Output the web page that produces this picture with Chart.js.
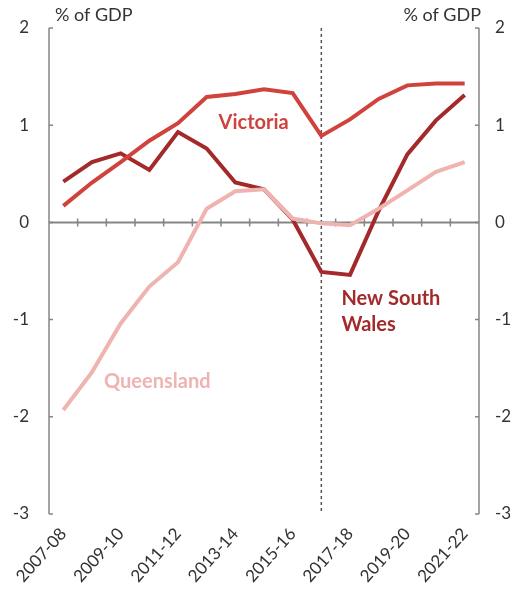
<!DOCTYPE html>
<html>
<head>
<meta charset="utf-8">
<script src="https://cdn.jsdelivr.net/npm/chart.js@4"></script>
<style>
  html, body { margin: 0; padding: 0; background: #fff; }
  #wrap { width: 518px; height: 597px; }
</style>
</head>
<body>
<div id="wrap"><canvas id="c" width="518" height="597"></canvas></div>
<script>
// chart data (% of GDP)
const years = ["2007-08", "2008-09", "2009-10", "2010-11", "2011-12", "2012-13", "2013-14",
  "2014-15", "2015-16", "2016-17", "2017-18", "2018-19", "2019-20", "2020-21", "2021-22"];
const victoria = [0.17, 0.41, 0.62, 0.84, 1.02, 1.29, 1.32, 1.37, 1.33, 0.89, 1.06, 1.27, 1.41, 1.43, 1.43];
const nsw = [0.42, 0.62, 0.71, 0.54, 0.93, 0.76, 0.41, 0.34, 0.03, -0.51, -0.54, 0.12, 0.70, 1.05, 1.31];
const queensland = [-1.93, -1.54, -1.04, -0.66, -0.41, 0.14, 0.32, 0.34, 0.04, -0.01, -0.03, 0.14, 0.33, 0.52, 0.62];
const forecastStart = 9; // dashed divider at 2016-17

const COLORS = {
  vic: "#d0433d",
  nsw: "#a3292a",
  qld: "#efb3b0",
  axis: "#858585",
  text: "#333333"
};
const FONT = "Lato, 'Open Sans', sans-serif";

function dsLine(label, data, color) {
  return {
    label,
    data,
    borderColor: color,
    backgroundColor: color,
    borderWidth: 4,
    pointRadius: 0,
    tension: 0,
    borderCapStyle: "butt",
    borderJoinStyle: "miter"
  };
}

// axes, zero line, divider and in-chart labels
const decor = {
  id: "decor",
  beforeDatasetsDraw(chart) {
    const { ctx, chartArea: a, scales: { x, y } } = chart;
    ctx.save();

    // dashed divider
    const xd = x.getPixelForValue(forecastStart);
    ctx.strokeStyle = "#555";
    ctx.lineWidth = 1.5;
    ctx.setLineDash([3, 3]);
    ctx.beginPath();
    ctx.moveTo(xd, a.top);
    ctx.lineTo(xd, a.bottom);
    ctx.stroke();
    ctx.setLineDash([]);

    // zero line with crossing ticks at category boundaries
    const y0 = y.getPixelForValue(0);
    ctx.strokeStyle = COLORS.axis;
    ctx.lineWidth = 2;
    ctx.beginPath();
    ctx.moveTo(a.left, y0);
    ctx.lineTo(a.right, y0);
    ctx.stroke();
    ctx.lineWidth = 1.5;
    ctx.beginPath();
    for (let i = 0; i < years.length - 1; i++) {
      const xb = (x.getPixelForValue(i) + x.getPixelForValue(i + 1)) / 2;
      ctx.moveTo(xb, y0 - 4);
      ctx.lineTo(xb, y0 + 4);
    }
    ctx.stroke();

    // y axis lines with inside ticks
    ctx.lineWidth = 1.5;
    ctx.beginPath();
    ctx.moveTo(a.left, a.top);
    ctx.lineTo(a.left, a.bottom);
    ctx.moveTo(a.right, a.top);
    ctx.lineTo(a.right, a.bottom);
    for (let v = -3; v <= 2; v++) {
      const yp = y.getPixelForValue(v);
      ctx.moveTo(a.left, yp);
      ctx.lineTo(a.left + 4, yp);
      ctx.moveTo(a.right, yp);
      ctx.lineTo(a.right - 4, yp);
    }
    ctx.stroke();
    ctx.restore();
  },
  afterDatasetsDraw(chart) {
    const { ctx, chartArea: a, scales: { x, y } } = chart;
    ctx.save();
    ctx.textBaseline = "middle";

    ctx.font = "18px " + FONT;
    ctx.fillStyle = COLORS.text;
    ctx.textAlign = "left";
    ctx.fillText("% of GDP", a.left + 6, 15);
    ctx.textAlign = "right";
    ctx.fillText("% of GDP", a.right + 2, 15);

    ctx.font = "bold 20px " + FONT;
    ctx.fillStyle = COLORS.vic;
    ctx.textAlign = "center";
    ctx.fillText("Victoria", x.getPixelForValue(6.64), y.getPixelForValue(1.03));

    ctx.fillStyle = COLORS.nsw;
    ctx.textAlign = "left";
    ctx.fillText("New South", x.getPixelForValue(9.7), y.getPixelForValue(-0.78));
    ctx.fillText("Wales", x.getPixelForValue(9.7), y.getPixelForValue(-1.05));

    ctx.fillStyle = COLORS.qld;
    ctx.fillText("Queensland", x.getPixelForValue(1.42), y.getPixelForValue(-1.64));
    ctx.restore();
  }
};

const yTicks = (pad) => ({
  stepSize: 1,
  color: COLORS.text,
  font: { size: 17, family: FONT },
  padding: pad
});

new Chart(document.getElementById("c").getContext("2d"), {
  type: "line",
  data: {
    labels: years,
    datasets: [
      dsLine("Queensland", queensland, COLORS.qld),
      dsLine("Victoria", victoria, COLORS.vic),
      dsLine("New South Wales", nsw, COLORS.nsw)
    ]
  },
  options: {
    responsive: false,
    animation: false,
    layout: { padding: { top: 28, left: 0, right: 0, bottom: 0 } },
    plugins: {
      legend: { display: false },
      tooltip: { enabled: false }
    },
    scales: {
      x: {
        type: "category",
        offset: true,
        grid: { display: false },
        border: { display: false },
        ticks: {
          autoSkip: false,
          maxRotation: 48,
          minRotation: 48,
          padding: 2,
          color: COLORS.text,
          font: { size: 17, family: FONT },
          callback: (v, i) => (i % 2 === 0 ? years[i] : "")
        },
        afterFit: (s) => { s.height = 83; }
      },
      y: {
        position: "left",
        min: -3,
        max: 2,
        grid: { display: false },
        border: { display: false },
        ticks: yTicks(12),
        afterFit: (s) => { s.width = 49; }
      },
      y2: {
        position: "right",
        min: -3,
        max: 2,
        grid: { display: false },
        border: { display: false },
        ticks: yTicks(8),
        afterFit: (s) => { s.width = 39; }
      }
    }
  },
  plugins: [decor]
});
</script>
</body>
</html>
